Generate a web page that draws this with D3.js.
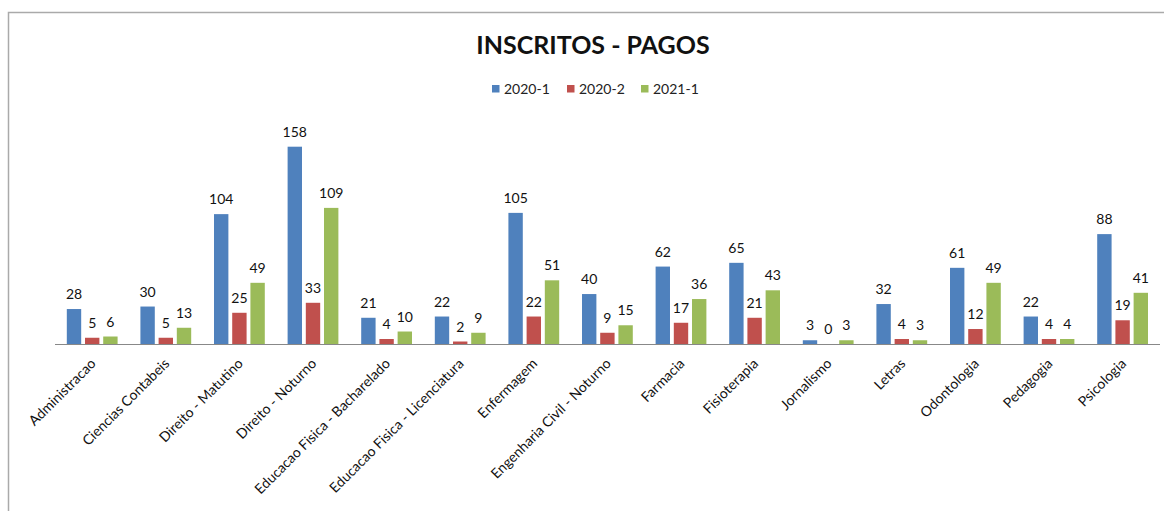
<!DOCTYPE html>
<html>
<head>
<meta charset="utf-8">
<script src="https://cdn.jsdelivr.net/npm/d3@7"></script>
<style>
  body { margin: 0; background: #fff; }
  svg { display: block; font-family: Lato, "Open Sans", sans-serif; }
</style>
</head>
<body>
<div id="chart"></div>
<script>
// course names
const cursos = ["Administracao", "Ciencias Contabeis", "Direito - Matutino", "Direito - Noturno",
  "Educacao Fisica - Bacharelado", "Educacao Fisica - Licenciatura", "Enfermagem",
  "Engenharia Civil - Noturno", "Farmacia", "Fisioterapia", "Jornalismo", "Letras",
  "Odontologia", "Pedagogia", "Psicologia"];
const series = ["2020-1", "2020-2", "2021-1"];
const v2020_1 = [28, 30, 104, 158, 21, 22, 105, 40, 62, 65, 3, 32, 61, 22, 88];
const v2020_2 = [5, 5, 25, 33, 4, 2, 22, 9, 17, 21, 0, 4, 12, 4, 19];
const v2021_1 = [6, 13, 49, 109, 10, 9, 51, 15, 36, 43, 3, 3, 49, 4, 41];
const colors = ["#4F81BD", "#C0504D", "#9BBB59"];

const width = 1164, height = 511;
const svg = d3.select("#chart").append("svg")
  .attr("width", width)
  .attr("height", height);

// frame of the chart area (top and left edges visible)
svg.append("path")
  .attr("d", "M8.5,511 V12.5 H1164")
  .attr("fill", "none")
  .attr("stroke", "#aaa")
  .attr("stroke-width", 1.5);

const x = d3.scaleBand()
  .domain(cursos)
  .range([55.4, 1159.4])
  .paddingInner(0.31)
  .paddingOuter(0.155);

const xs = d3.scaleBand()
  .domain(series)
  .range([0, x.bandwidth()])
  .paddingInner(0.21);

const y = d3.scaleLinear()
  .domain([0, 160])
  .range([344, 144.2]);

const rows = cursos.map((c, i) => ({
  curso: c,
  vals: [v2020_1[i], v2020_2[i], v2021_1[i]]
}));

// title
svg.append("text")
  .attr("x", 593)
  .attr("y", 54)
  .attr("text-anchor", "middle")
  .style("font-size", "25px")
  .style("font-weight", "bold")
  .style("fill", "#111")
  .text("INSCRITOS - PAGOS");

// legend
const legX = [492, 567, 641];
const leg = svg.selectAll(".leg")
  .data(series)
  .enter()
  .append("g")
  .attr("class", "leg")
  .attr("transform", (d, i) => `translate(${legX[i]},89)`);
leg.append("rect")
  .attr("x", 0).attr("y", -4)
  .attr("width", 7.5).attr("height", 7.5)
  .attr("fill", (d, i) => colors[i]);
leg.append("text")
  .attr("x", 12)
  .attr("dy", "0.35em")
  .style("font-size", "14px")
  .style("fill", "#222")
  .text(d => d);

// bars
const groups = svg.selectAll(".grp")
  .data(rows)
  .enter()
  .append("g")
  .attr("class", "grp")
  .attr("transform", d => `translate(${x(d.curso)},0)`);

groups.selectAll("rect")
  .data(d => d.vals.map((v, i) => ({ s: series[i], v: v, i: i })))
  .enter()
  .append("rect")
  .attr("x", d => xs(d.s))
  .attr("y", d => y(d.v))
  .attr("width", xs.bandwidth())
  .attr("height", d => y(0) - y(d.v))
  .attr("fill", d => colors[d.i]);

groups.selectAll(".val")
  .data(d => d.vals.map((v, i) => ({ s: series[i], v: v, i: i })))
  .enter()
  .append("text")
  .attr("class", "val")
  .attr("x", d => xs(d.s) + xs.bandwidth() / 2)
  .attr("y", d => y(d.v) - 10)
  .attr("text-anchor", "middle")
  .style("font-size", "14px")
  .style("fill", "#111")
  .text(d => d.v);

// axis line
svg.append("line")
  .attr("x1", 55).attr("x2", 1160)
  .attr("y1", y(0) + 0.5).attr("y2", y(0) + 0.5)
  .attr("stroke", "#888")
  .attr("stroke-width", 1.2);

// category labels, rotated
svg.selectAll(".cat")
  .data(cursos)
  .enter()
  .append("text")
  .attr("class", "cat")
  .attr("text-anchor", "end")
  .attr("transform", d => `translate(${x(d) + x.bandwidth() / 2 + 1},361) rotate(-45)`)
  .attr("dy", "0.35em")
  .style("font-size", "14px")
  .style("fill", "#111")
  .text(d => d);
</script>
</body>
</html>
